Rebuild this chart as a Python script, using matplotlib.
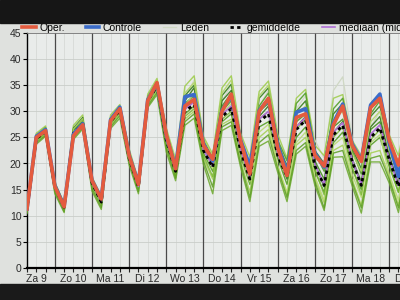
import matplotlib.pyplot as plt
from matplotlib.patches import Rectangle

plt.rcParams['font.family'] = ['Liberation Sans', 'DejaVu Sans']

# Tijdstappen: elke 6 uur vanaf za 9 06:00 (in uren)
uren = [6 * i for i in range(42)]
dagen = ['Za 9', 'Zo 10', 'Ma 11', 'Di 12', 'Wo 13', 'Do 14',
         'Vr 15', 'Za 16', 'Zo 17', 'Ma 18', 'Di 19']

# Operationele run
oper = [11.3, 25.0, 26.3,
        15.6, 11.7, 25.3, 27.4,
        16.7, 13.2, 28.2, 30.5,
        21.5, 16.0, 32.0, 35.5,
        25.5, 19.0, 31.0, 32.3,
        23.5, 20.8, 30.0, 33.3,
        24.3, 18.0, 30.0, 32.5,
        23.0, 17.7, 28.8, 29.5,
        21.6, 19.5, 27.4, 31.0,
        23.5, 20.4, 30.7, 32.5,
        24.5, 19.7, 27.0]

# Controle run
controle = [11.3, 25.2, 26.5,
            15.8, 11.8, 25.6, 27.6,
            16.8, 13.3, 28.4, 30.8,
            21.6, 16.2, 32.2, 35.3,
            25.3, 19.2, 32.8, 33.2,
            23.8, 20.5, 30.2, 33.0,
            24.5, 19.5, 30.2, 32.3,
            23.6, 18.2, 29.8, 30.5,
            22.0, 19.3, 27.8, 31.4,
            23.8, 20.6, 31.2, 33.3,
            24.0, 17.5, 26.0]

# Gemiddelde van de leden
gemiddelde = [11.2, 24.8, 26.0,
              15.5, 11.6, 25.8, 27.6,
              16.3, 12.6, 28.0, 30.2,
              21.0, 15.6, 32.0, 34.8,
              24.5, 18.5, 30.0, 31.3,
              22.5, 19.3, 29.0, 30.5,
              22.5, 17.0, 28.0, 29.5,
              21.5, 17.5, 26.5, 28.3,
              19.5, 15.8, 25.5, 27.3,
              20.5, 15.8, 25.0, 26.8,
              20.8, 15.6, 24.5]

# Mediaan van de leden
mediaan = [11.2, 24.9, 26.1,
           15.5, 11.6, 25.9, 27.7,
           16.3, 12.6, 28.1, 30.3,
           21.0, 15.6, 32.2, 35.0,
           24.6, 18.6, 30.4, 31.8,
           22.6, 19.5, 29.4, 31.0,
           22.7, 17.2, 28.5, 30.0,
           21.8, 17.6, 27.0, 28.8,
           19.8, 16.0, 26.0, 27.8,
           20.8, 16.0, 25.6, 27.4,
           21.0, 15.8, 25.0]

leden = [
    [12.2, 25.8, 27.2, 16.4, 12.4, 27.3, 29.3, 17.4, 13.8, 29.3, 31.3,
     22.8, 16.8, 33.3, 36.3, 26.8, 20.8, 34.8, 36.8, 25.2, 21.8, 34.5, 36.8,
     25.8, 21.2, 33.8, 35.8, 25.6, 21.0, 32.5, 34.2, 23.5, 21.5, 32.5, 33.2,
     24.5, 21.5, 31.5, 33.2, 25.5, 21.5, 30.5],
    [10.4, 23.7, 25.2, 14.2, 10.6, 24.6, 26.6, 14.7, 11.2, 26.7, 28.7,
     19.7, 14.2, 30.7, 33.2, 22.2, 16.7, 27.3, 28.7, 19.8, 14.2, 26.3, 27.3,
     19.3, 12.7, 23.3, 24.3, 18.3, 12.7, 21.8, 23.3, 15.8, 11.0, 21.2, 21.3,
     15.8, 10.5, 20.3, 20.3, 16.3, 10.6, 20.2],
    [11.6, 25.3, 26.7, 16.0, 12.0, 26.5, 28.5, 16.9, 13.3, 28.6, 30.8,
     22.0, 16.2, 32.6, 35.6, 25.8, 19.8, 33.0, 35.0, 24.5, 21.0, 33.0, 35.2,
     24.5, 19.5, 32.5, 34.5, 24.0, 19.5, 30.0, 32.0, 22.5, 20.0, 29.5, 31.5,
     23.0, 19.0, 29.0, 31.0, 23.5, 18.5, 28.5],
    [11.0, 24.6, 25.8, 15.3, 11.3, 25.6, 27.8, 16.0, 12.4, 27.8, 30.0,
     21.2, 15.4, 31.8, 34.6, 24.0, 18.0, 29.5, 31.0, 22.0, 18.5, 28.0, 29.5,
     21.5, 16.0, 27.0, 28.0, 21.0, 16.0, 25.0, 27.0, 18.5, 14.5, 24.0, 26.0,
     19.0, 15.0, 23.5, 25.0, 19.5, 14.5, 23.0],
    [11.8, 25.5, 26.9, 16.2, 12.2, 26.2, 28.0, 17.0, 13.5, 28.8, 30.6,
     21.8, 16.5, 32.3, 35.2, 25.5, 19.5, 31.5, 33.0, 23.8, 20.5, 31.0, 33.5,
     23.5, 18.0, 30.0, 31.5, 22.5, 18.0, 28.0, 29.5, 20.5, 17.0, 27.0, 28.5,
     21.0, 16.5, 26.5, 28.0, 21.5, 16.0, 26.0],
    [10.8, 24.3, 25.6, 14.9, 11.0, 25.0, 27.0, 15.5, 12.0, 27.3, 29.5,
     20.5, 15.0, 31.2, 34.0, 23.5, 17.5, 28.5, 30.0, 21.0, 17.0, 27.5, 28.5,
     20.5, 14.5, 25.0, 26.5, 19.5, 14.0, 23.5, 25.0, 17.0, 12.5, 22.5, 23.5,
     17.0, 12.0, 22.0, 22.5, 17.5, 12.0, 21.5],
    [11.4, 25.0, 26.4, 15.7, 11.8, 26.0, 28.0, 16.6, 13.0, 28.4, 30.4,
     21.4, 16.0, 32.0, 35.0, 24.8, 18.8, 30.5, 32.0, 23.0, 19.8, 30.0, 32.0,
     24.0, 18.5, 31.0, 33.5, 24.5, 20.5, 31.5, 33.5, 22.0, 18.5, 30.5, 32.5,
     22.5, 18.0, 29.5, 32.0, 24.0, 20.0, 29.5],
    [11.1, 24.7, 26.0, 15.4, 11.5, 25.4, 27.4, 16.2, 12.8, 28.0, 30.2,
     21.0, 15.8, 31.8, 35.0, 25.0, 19.0, 31.0, 33.5, 23.0, 19.0, 29.5, 31.5,
     22.0, 16.5, 26.0, 27.5, 19.5, 14.5, 24.0, 26.0, 17.5, 13.0, 23.5, 25.0,
     18.0, 13.5, 24.0, 25.5, 18.0, 13.0, 23.0],
    [11.5, 25.2, 26.6, 15.8, 11.9, 26.8, 28.8, 16.8, 13.1, 28.5, 30.9,
     21.6, 16.3, 32.8, 35.8, 26.0, 20.0, 32.0, 34.5, 24.0, 21.0, 32.0, 34.0,
     23.5, 17.5, 29.0, 31.0, 22.0, 17.0, 27.0, 29.0, 20.0, 15.5, 26.0, 28.0,
     20.5, 16.0, 27.0, 29.0, 21.5, 16.0, 25.0],
    [10.9, 24.4, 25.8, 15.0, 11.2, 25.6, 27.6, 15.9, 12.3, 27.6, 29.8,
     20.8, 15.2, 31.5, 34.4, 23.8, 17.8, 29.0, 30.5, 21.5, 17.5, 28.5, 30.0,
     22.5, 17.0, 28.5, 30.0, 21.5, 17.5, 26.5, 28.5, 19.0, 14.0, 25.0, 27.0,
     19.5, 14.0, 24.5, 26.5, 20.0, 14.5, 24.0],
    [11.7, 25.6, 26.8, 16.1, 12.1, 26.6, 28.6, 17.1, 13.6, 29.0, 31.0,
     22.2, 16.6, 32.8, 36.0, 26.2, 20.2, 33.5, 35.5, 24.8, 21.5, 33.5, 36.0,
     25.0, 20.0, 33.0, 35.0, 23.5, 19.0, 29.5, 31.0, 21.5, 19.0, 28.5, 30.0,
     22.0, 18.5, 28.0, 30.0, 22.5, 17.5, 27.5],
    [10.6, 24.0, 25.4, 14.6, 10.8, 24.9, 26.9, 15.2, 11.6, 27.0, 29.2,
     20.2, 14.6, 31.0, 33.6, 23.0, 17.2, 28.0, 29.5, 20.5, 15.5, 27.0, 28.0,
     20.0, 13.5, 24.0, 25.5, 19.0, 13.5, 22.5, 24.0, 16.5, 11.5, 22.0, 22.5,
     16.5, 11.5, 21.0, 21.5, 17.0, 11.5, 21.0],
]
uitschieter = [11.3, 25.0, 26.3, 15.5, 11.7, 25.5, 27.5, 16.5, 13.0, 28.0, 30.0,
               21.0, 15.8, 32.0, 35.0, 25.0, 19.0, 32.5, 36.0, 24.0, 20.0, 32.0, 35.0,
               24.5, 19.0, 31.0, 34.0, 24.0, 19.0, 30.5, 33.0, 24.5, 21.0, 34.0, 36.6,
               25.0, 17.0, 27.0, 30.0, 24.0, 18.0, 27.0]

leden_kleuren = ['#9ccc48', '#6aa82a', '#2f7a12', '#4f9a1a', '#3d8a16', '#a4d050',
                 '#4a9a1c', '#b8d870', '#2a7010', '#7ab832', '#b0d462', '#5c9e22']

fig = plt.figure(figsize=(4, 3), dpi=100)
fig.patch.set_facecolor('#dfe1de')

# Schermrand boven/onder (foto)
fig.patches.append(Rectangle((0, 0.925), 1, 0.075, transform=fig.transFigure,
                             color='#161616', zorder=0))
fig.patches.append(Rectangle((0, 0), 1, 0.055, transform=fig.transFigure,
                             color='#1a1a1a', zorder=0))

ax = fig.add_axes([0.0675, 0.107, 0.9325, 0.783])
ax.set_facecolor('#e9ecea')

# Leden
for serie, kleur in zip(leden, leden_kleuren):
    ax.plot(uren, serie, color=kleur, lw=1.0, alpha=0.85, zorder=3)
h_leden, = ax.plot(uren, uitschieter, color='#cfd8c4', lw=0.9, zorder=2, label='Leden')

h_med, = ax.plot(uren, mediaan, color='#b06fd6', lw=1.2, zorder=4, label='mediaan (middel)')
h_gem, = ax.plot(uren, gemiddelde, color='black', lw=2.0, ls=(0, (1.2, 1.2)),
                 zorder=5, label='gemiddelde')
h_con, = ax.plot(uren, controle, color='#3b6cc9', lw=2.6, zorder=6, label='Controle')
h_op, = ax.plot(uren, oper, color='#e45b3e', lw=2.6, zorder=7, label='Oper.')

# Daggrenzen en rasterlijnen
for i in range(len(dagen)):
    ax.axvline(18 + 24 * i, color='#4a4a4a', lw=0.9, zorder=1)
    ax.text(6 + 24 * i, -0.047, dagen[i], transform=ax.get_xaxis_transform(),
            ha='center', va='center', fontsize=7.5, color='#2a2a2a', clip_on=False)
for u in range(0, 250, 6):
    ax.axvline(u, color='#d6dad6', lw=0.6, zorder=0)
ax.set_yticks(range(0, 46, 5))
ax.yaxis.grid(True, color='#c9cdc9', lw=0.6)
ax.set_axisbelow(True)

ax.set_xlim(0, 241)
ax.set_ylim(0, 45)
ax.set_xticks(range(0, 242, 6))
ax.set_xticklabels([])
ax.tick_params(axis='x', length=3, width=0.8, color='#222222')
ax.tick_params(axis='y', length=3, width=0.8, labelsize=7.5, labelcolor='#2a2a2a', pad=1)
for s in ['top', 'right']:
    ax.spines[s].set_color('#777777')
    ax.spines[s].set_linewidth(0.6)
ax.spines['bottom'].set_linewidth(1.6)
ax.spines['left'].set_linewidth(1.0)

# Legenda boven de grafiek
ax.legend(handles=[h_op, h_con, h_leden, h_gem, h_med], ncol=5, loc='center left',
          bbox_to_anchor=(0.055, 0.908), bbox_transform=fig.transFigure,
          frameon=False, fontsize=7.5, handlelength=1.3, handletextpad=0.35,
          columnspacing=2.0, borderpad=0, borderaxespad=0)

fig.savefig('out.png', dpi=100, facecolor=fig.get_facecolor())
